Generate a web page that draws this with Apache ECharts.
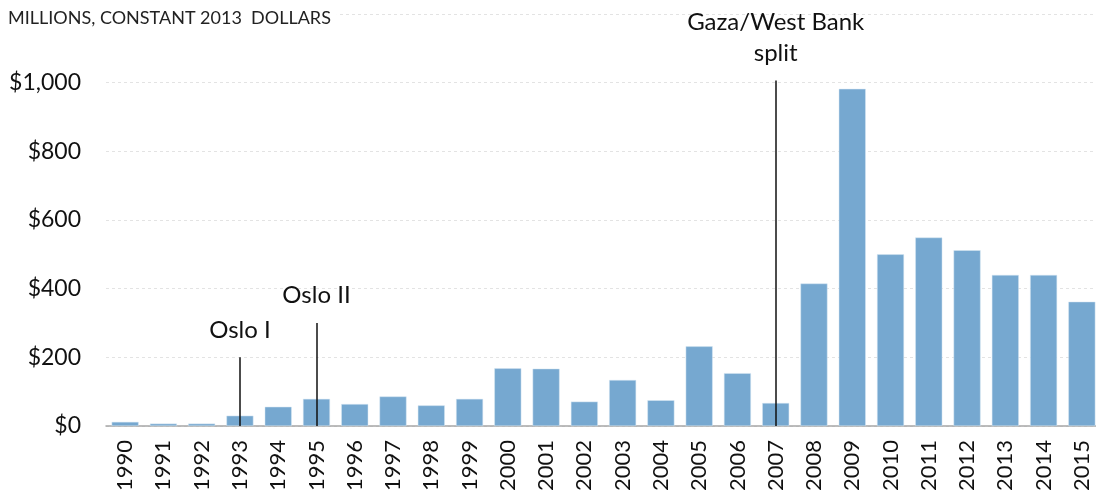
<!DOCTYPE html>
<html>
<head>
<meta charset="utf-8">
<script src="https://cdn.jsdelivr.net/npm/echarts@6/dist/echarts.min.js"></script>
<style>html,body{margin:0;padding:0;background:#fff;}#c{width:1096px;height:498px;}</style>
</head>
<body>
<div id="c"></div>
<script>
const years = ['1990','1991','1992','1993','1994','1995','1996','1997','1998','1999','2000','2001','2002','2003','2004','2005','2006','2007','2008','2009','2010','2011','2012','2013','2014','2015'];
const values = [12,7,7,30,56,79,64,86,60,79,168,167,71,134,75,232,154,67,415,982,500,549,512,440,440,362];
const yTicks = [0,200,400,600,800,1000,1200];
const events = [
  {year:'1993', top:200, text:'Oslo I'},
  {year:'1995', top:300, text:'Oslo II'},
  {year:'2007', top:1006, text:'Gaza/West Bank\nsplit'}
];
const font = 'Lato, "Open Sans", sans-serif';
const chart = echarts.init(document.getElementById('c'));
chart.setOption({
  animation:false,
  grid:{left:106, width:995, top:14, bottom:72, outerBoundsMode:'none', containLabel:false},
  xAxis:{type:'category', data:years,
    axisLine:{lineStyle:{color:'#a6a6a6', width:1.5}},
    axisTick:{show:false},
    axisLabel:{rotate:90, fontFamily:font, fontSize:22, color:'#111', margin:14, interval:0}},
  yAxis:{type:'value', min:0, max:yTicks[yTicks.length-1], interval:200,
    axisLine:{show:false}, axisTick:{show:false},
    splitLine:{lineStyle:{color:'#e3e3e3', type:[3,3]}},
    axisLabel:{fontFamily:font, fontSize:23, color:'#111', margin:25,
      formatter:v=>v>=1200?'':'$'+v.toLocaleString('en-US')}},
  title:{text:'MILLIONS, CONSTANT 2013  DOLLARS', left:0, top:6, padding:[3,6,3,8],
    backgroundColor:'#fff',
    textStyle:{fontFamily:font, fontSize:18, fontWeight:'normal', color:'#222'}},
  series:[{type:'bar', data:values, barCategoryGap:'29.5%',
    itemStyle:{color:'#76a8d0', borderColor:'#d6e6f3', borderWidth:0.5},
    markLine:{symbol:'none', silent:true,
      lineStyle:{color:'#111', width:1.5, type:'solid'},
      label:{position:'end', distance:12, fontFamily:font, fontSize:24, color:'#111', lineHeight:31, formatter:p=>p.name},
      data:events.map(e=>[{name:e.text, coord:[e.year,0]},{coord:[e.year,e.top]}])}
  }]
});
</script>
</body>
</html>
